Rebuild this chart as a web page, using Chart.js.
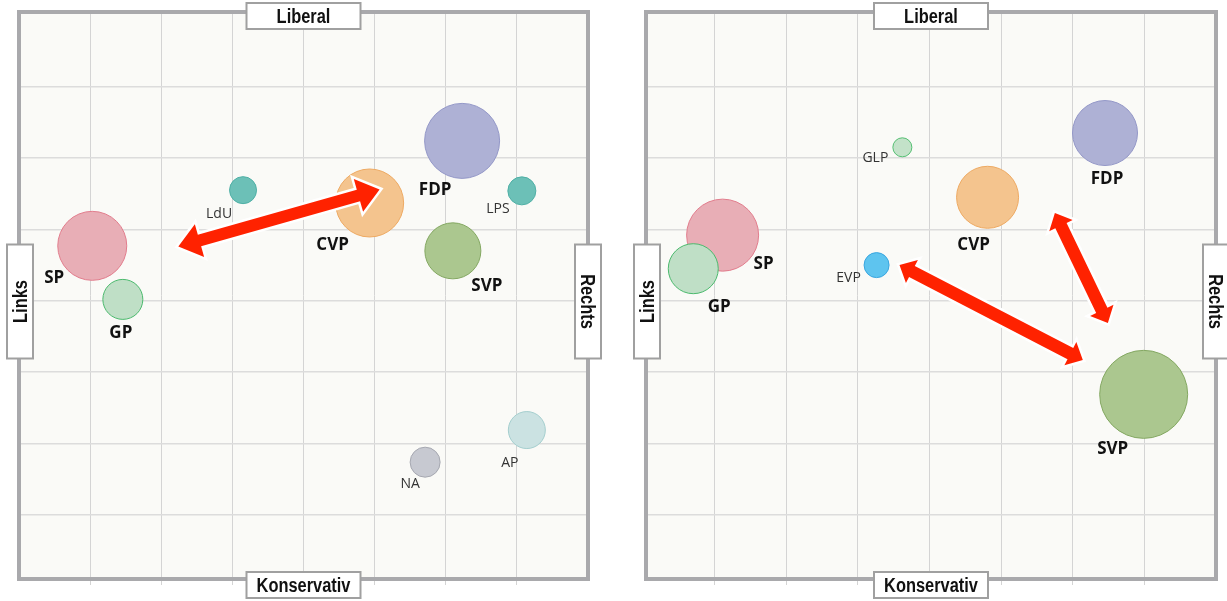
<!DOCTYPE html>
<html>
<head>
<meta charset="utf-8">
<script src="https://cdn.jsdelivr.net/npm/chart.js"></script>
<style>
  body { margin: 0; background: #fff; }
  #wrap { position: relative; width: 1227px; height: 601px; overflow: hidden; }
  canvas { position: absolute; top: 0; }
  #leftChart { left: 0; }
  #rightChart { left: 612px; }
</style>
</head>
<body>
<div id="wrap">
  <canvas id="leftChart" width="615" height="601"></canvas>
  <canvas id="rightChart" width="615" height="601"></canvas>
</div>
<script>
// --- data (grid units) ---
var leftParties = ['SP', 'GP', 'LdU', 'CVP', 'FDP', 'LPS', 'SVP', 'NA', 'AP'];
var leftX = [1.03, 1.46, 3.15, 4.93, 6.23, 7.07, 6.10, 5.71, 7.14];
var leftY = [4.77, 4.02, 5.55, 5.37, 6.24, 5.54, 4.70, 1.74, 2.19];
var leftSize = [34.5, 20, 13.5, 34, 37.5, 14, 28, 15, 18.5];

var rightParties = ['SP', 'GP', 'GLP', 'EVP', 'CVP', 'FDP', 'SVP'];
var rightX = [1.11, 0.70, 3.62, 3.26, 4.81, 6.45, 6.99];
var rightY = [4.92, 4.45, 6.15, 4.50, 5.45, 6.35, 2.69];
var rightSize = [36, 25, 9.5, 12.5, 31, 32.5, 44];

var gridTicks = [1, 2, 3, 4, 5, 6, 7];
var axisTop = 'Liberal', axisBottom = 'Konservativ', axisLeft = 'Links', axisRight = 'Rechts';

// arrows: [x1, y1, x2, y2] in grid units
var leftArrows = [[2.24, 4.76, 5.07, 5.56]];
var rightArrows = [[3.58, 4.50, 6.14, 3.17], [5.75, 5.23, 6.49, 3.69]];

// --- styles ---
var partyColors = {
  SP:  ['#e8aeb6', '#e27d8d'],
  GP:  ['#bfdfc6', '#4cba6e'],
  LdU: ['#6cc0b7', '#4fb0a6'],
  LPS: ['#6cc0b7', '#4fb0a6'],
  CVP: ['#f4c48e', '#eeaa63'],
  FDP: ['#aeb1d5', '#9498c8'],
  SVP: ['#abc78f', '#84a862'],
  NA:  ['#c7c9d1', '#a6a8b1'],
  AP:  ['#cbe2e2', '#a5cfcf'],
  GLP: ['#c3e2c9', '#56c074'],
  EVP: ['#5ec4ef', '#39a6e0']
};
var bigParties = ['SP', 'GP', 'CVP', 'FDP', 'SVP'];
// label offset from bubble centre, px
var leftLabelPos = [[-38, 31], [-2, 32], [-24, 23], [-37, 41], [-27, 48], [-24, 17], [34, 34], [-15, 21], [-17, 32]];
var rightLabelPos = [[41, 28], [26, 37], [-27, 10], [-28, 12], [-14, 47], [2, 45], [-31, 54]];

function drawArrow(ctx, x1, y1, x2, y2, shaft, headW, headL) {
  var dx = x2 - x1, dy = y2 - y1;
  var len = Math.sqrt(dx * dx + dy * dy);
  var ux = dx / len, uy = dy / len, nx = -uy, ny = ux;
  var s = shaft / 2;
  var pts = [[0, 0], [headL, headW], [headL, s], [len - headL, s], [len - headL, headW], [len, 0],
             [len - headL, -headW], [len - headL, -s], [headL, -s], [headL, -headW]];
  ctx.beginPath();
  for (var i = 0; i < pts.length; i++) {
    var px = x1 + ux * pts[i][0] + nx * pts[i][1];
    var py = y1 + uy * pts[i][0] + ny * pts[i][1];
    if (i == 0) ctx.moveTo(px, py); else ctx.lineTo(px, py);
  }
  ctx.closePath();
  ctx.lineJoin = 'miter';
  ctx.strokeStyle = '#ffffff';
  ctx.lineWidth = 5;
  ctx.stroke();
  ctx.fillStyle = '#ff2200';
  ctx.fill();
}

function drawBox(ctx, cx, cy, text, rot) {
  ctx.save();
  ctx.translate(cx, cy);
  ctx.rotate(rot);
  ctx.fillStyle = '#ffffff';
  ctx.fillRect(-57, -13, 114, 26);
  ctx.strokeStyle = '#a0a0a0';
  ctx.lineWidth = 2;
  ctx.strokeRect(-57, -13, 114, 26);
  ctx.fillStyle = '#111';
  ctx.font = 'bold 20px "Liberation Sans", Arial, sans-serif';
  ctx.textAlign = 'center';
  ctx.textBaseline = 'alphabetic';
  ctx.scale(0.82, 1); // narrow look of the original labels
  ctx.fillText(text, 0, 7);
  ctx.restore();
}

var decorPlugin = {
  id: 'decor',
  beforeDraw: function(chart) {
    var a = chart.chartArea, ctx = chart.ctx;
    ctx.save();
    ctx.fillStyle = '#fafaf7';
    ctx.fillRect(a.left, a.top, a.right - a.left, a.bottom - a.top);
    ctx.restore();
  },
  afterDatasetsDraw: function(chart) {
    var ctx = chart.ctx, xs = chart.scales.x, ys = chart.scales.y;
    var o = chart.options.plugins.decor;
    ctx.save();
    for (var i = 0; i < o.names.length; i++) {
      var name = o.names[i];
      var big = bigParties.indexOf(name) >= 0;
      var size = big ? 17 : 14;
      ctx.font = (big ? 'bold ' : '') + size + 'px "Open Sans", sans-serif';
      ctx.fillStyle = big ? '#111' : '#333';
      ctx.textAlign = 'center';
      ctx.textBaseline = 'alphabetic';
      var px = xs.getPixelForValue(o.xs[i]) + o.labelPos[i][0];
      var py = ys.getPixelForValue(o.ys[i]) + o.labelPos[i][1] + size * 0.36;
      ctx.fillText(name, px, py);
    }
    for (var k = 0; k < o.arrows.length; k++) {
      var ar = o.arrows[k];
      drawArrow(ctx, xs.getPixelForValue(ar[0]), ys.getPixelForValue(ar[1]),
                xs.getPixelForValue(ar[2]), ys.getPixelForValue(ar[3]),
                o.arrowStyle[0], o.arrowStyle[1], o.arrowStyle[2]);
    }
    ctx.restore();
  },
  afterDraw: function(chart) {
    var a = chart.chartArea, ctx = chart.ctx;
    ctx.save();
    ctx.strokeStyle = '#a9a9ac';
    ctx.lineWidth = 4;
    ctx.strokeRect(a.left, a.top, a.right - a.left, a.bottom - a.top);
    var cx = (a.left + a.right) / 2, cy = (a.top + a.bottom) / 2 + 6;
    drawBox(ctx, cx, a.top + 4, axisTop, 0);
    drawBox(ctx, cx, a.bottom + 6, axisBottom, 0);
    drawBox(ctx, a.left + 1, cy, axisLeft, -Math.PI / 2);
    drawBox(ctx, a.right, cy, axisRight, Math.PI / 2);
    ctx.restore();
  }
};

function makeChart(id, names, xv, yv, rv, labelPos, arrows, arrowStyle, xMin, xMax, pad) {
  var points = [];
  for (var i = 0; i < names.length; i++) {
    points.push({ x: xv[i], y: yv[i], r: rv[i] });
  }
  var ctx = document.getElementById(id);
  return new Chart(ctx, {
    type: 'bubble',
    data: {
      datasets: [{
        data: points,
        backgroundColor: names.map(function(n) { return partyColors[n][0]; }),
        borderColor: names.map(function(n) { return partyColors[n][1]; }),
        borderWidth: 1
      }]
    },
    options: {
      responsive: false,
      animation: false,
      devicePixelRatio: 1,
      layout: { padding: pad, autoPadding: false },
      events: [],
      plugins: {
        legend: { display: false },
        tooltip: { enabled: false },
        decor: { names: names, xs: xv, ys: yv, labelPos: labelPos, arrows: arrows, arrowStyle: arrowStyle }
      },
      scales: {
        x: {
          type: 'linear', min: xMin, max: xMax,
          afterBuildTicks: function(s) { s.ticks = gridTicks.map(function(v) { return { value: v }; }); },
          ticks: { display: false },
          border: { display: false },
          grid: { color: '#d4d4d4', lineWidth: 1, drawTicks: true, tickLength: 6 }
        },
        y: {
          type: 'linear', min: 0.104, max: 8.045,
          afterBuildTicks: function(s) { s.ticks = gridTicks.map(function(v) { return { value: v }; }); },
          ticks: { display: false },
          border: { display: false },
          grid: { color: '#dcdcdc', lineWidth: 1.5, drawTicks: false }
        }
      }
    },
    plugins: [decorPlugin]
  });
}

makeChart('leftChart', leftParties, leftX, leftY, leftSize, leftLabelPos, leftArrows, [12, 17, 22],
          0, 8, { left: 19, top: 12, right: 27, bottom: 16 });
makeChart('rightChart', rightParties, rightX, rightY, rightSize, rightLabelPos, rightArrows, [12.5, 13, 14],
          0.04, 8, { left: 34, top: 12, right: 11, bottom: 16 });
</script>
</body>
</html>
